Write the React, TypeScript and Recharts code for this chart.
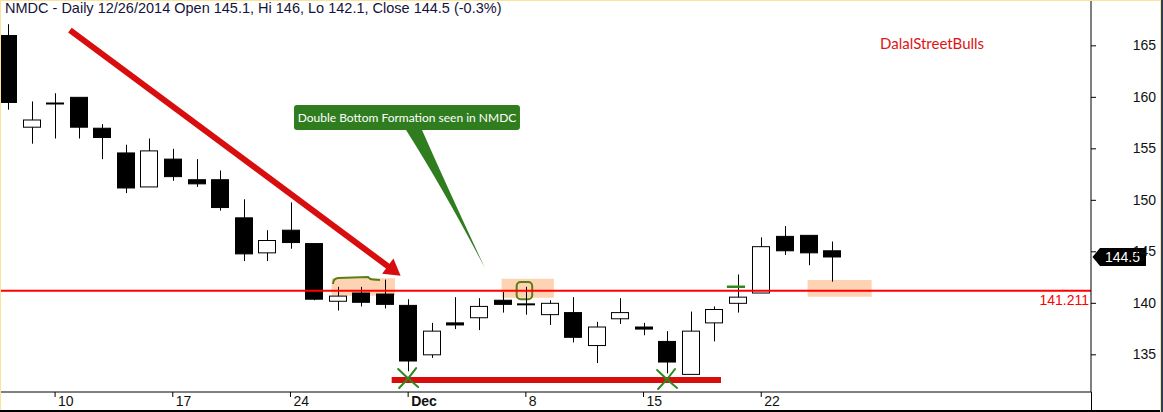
import React from "react";
import {
  ComposedChart,
  Bar,
  XAxis,
  YAxis,
  ReferenceLine,
  ReferenceArea,
  ReferenceDot,
} from "recharts";

// trading days shown on the chart (Nov 5 - Dec 26, 2014)
const days = [
  "Nov 5", "Nov 7", "Nov 10", "Nov 11", "Nov 12", "Nov 13", "Nov 14",
  "Nov 17", "Nov 18", "Nov 19", "Nov 20", "Nov 21",
  "Nov 24", "Nov 25", "Nov 26", "Nov 27", "Nov 28",
  "Dec 1", "Dec 2", "Dec 3", "Dec 4", "Dec 5",
  "Dec 8", "Dec 9", "Dec 10", "Dec 11", "Dec 12",
  "Dec 15", "Dec 16", "Dec 17", "Dec 18", "Dec 19",
  "Dec 22", "Dec 23", "Dec 24", "Dec 26",
];
const opens = [
  166.0, 157.1, 159.4, 160.0, 157.0, 154.6, 151.3, 154.0, 152.0, 152.0, 148.3, 144.9,
  147.1, 145.8, 140.2, 141.0, 140.9, 139.8, 135.0, 138.1, 138.6, 140.3, 139.9, 138.9,
  139.1, 135.9, 138.5, 137.7, 136.3, 133.1, 138.1, 140.0, 141.0, 146.5, 146.6, 145.1,
];
const highs = [
  167.1, 159.6, 160.4, 160.0, 157.4, 155.4, 156.0, 155.0, 154.0, 152.9, 150.1, 147.1,
  149.8, 145.8, 141.6, 141.6, 142.3, 140.4, 138.1, 140.6, 140.5, 141.1, 141.6, 140.3,
  140.6, 138.2, 140.5, 138.1, 137.3, 139.2, 139.7, 142.8, 146.4, 147.5, 146.6, 146.0,
];
const lows = [
  158.8, 155.5, 156.0, 156.0, 154.0, 150.7, 151.3, 151.9, 151.3, 149.0, 144.1, 144.1,
  145.3, 140.3, 139.3, 139.7, 139.5, 133.4, 134.7, 137.5, 137.4, 139.1, 138.9, 137.9,
  136.2, 134.2, 138.0, 136.9, 133.2, 133.1, 136.3, 139.1, 141.0, 144.7, 143.7, 142.1,
];
const closes = [
  159.5, 157.8, 159.45, 157.1, 156.1, 151.2, 154.8, 152.3, 151.6, 149.3, 144.8, 146.1,
  145.9, 140.4, 140.7, 140.1, 139.9, 134.4, 137.3, 137.9, 139.7, 139.9, 139.95, 140.0,
  136.7, 137.7, 139.1, 137.5, 134.3, 137.3, 139.4, 140.6, 145.5, 145.1, 144.9, 144.5,
];

const weekTicks = [2, 7, 12, 17, 22, 27, 32];
const weekLabels = ["10", "17", "24", "Dec", "8", "15", "22"];
const priceTicks = [135, 140, 145, 150, 155, 160, 165];
const supportLevel = 141.211;
const lastClose = 144.5;
const doubleBottomLevel = 132.55;

const data = days.map((day, i) => ({
  i,
  day,
  open: opens[i],
  high: highs[i],
  low: lows[i],
  close: closes[i],
  range: [lows[i], highs[i]],
}));

const RED = "#d80e0e";
const GREEN = "#2f7d1f";
const OLIVE = "#5a7d14";
const PEACH = "#fca868";
const AXIS_FONT = "'Liberation Sans', Arial, sans-serif";

function Candle(props: any) {
  const { x, y, width, height, payload } = props;
  const { open, close, high, low } = payload;
  const ppu = height / (high - low);
  const py = (v: number) => y + (high - v) * ppu;
  const cx = Math.round(x + width / 2) + 0.5;
  const top = py(Math.max(open, close));
  const bot = py(Math.min(open, close));
  const up = close > open;
  return (
    <g>
      <line x1={cx} x2={cx} y1={y} y2={y + height} stroke="#000" strokeWidth={1} />
      <rect
        x={Math.round(x) + 0.5}
        y={top}
        width={width - 1}
        height={Math.max(bot - top, 1)}
        fill={up ? "#fff" : "#000"}
        stroke="#000"
        strokeWidth={1}
      />
    </g>
  );
}

const XTick = (props: any) => {
  const { x, y, payload } = props;
  const label = weekLabels[weekTicks.indexOf(payload.value)];
  return (
    <text
      x={x + 3}
      y={y + 7}
      fontSize={14}
      fontFamily={AXIS_FONT}
      fontWeight={label === "Dec" ? "bold" : "normal"}
      fill="#111"
    >
      {label}
    </text>
  );
};

const YTick = (props: any) => {
  const { x, y, payload } = props;
  return (
    <text x={x + 58} y={y + 4.5} fontSize={14} fontFamily={AXIS_FONT} textAnchor="end" fill="#111">
      {payload.value}
    </text>
  );
};

const Arrow = (p: any) => {
  const { x1, y1, x2, y2 } = p;
  const dx = x2 - x1;
  const dy = y2 - y1;
  const len = Math.hypot(dx, dy);
  const ux = dx / len;
  const uy = dy / len;
  const head = 16;
  const half = 9.5;
  const bx = x2 - ux * head;
  const by = y2 - uy * head;
  return (
    <g>
      <line x1={x1} y1={y1} x2={bx + ux * 2} y2={by + uy * 2} stroke={RED} strokeWidth={6} />
      <polygon
        points={`${x2},${y2} ${bx - uy * half},${by + ux * half} ${bx + uy * half},${by - ux * half}`}
        fill={RED}
      />
    </g>
  );
};

const Tail = (p: any) => {
  const { x1, y1, x2, y2 } = p;
  return (
    <path
      d={`M${x1 - 8},${y1} Q${x1 + 30},${y1 + 60} ${x2},${y2} Q${x1 + 30},${y1 + 50} ${x1 + 8},${y1} Z`}
      fill={GREEN}
    />
  );
};

const Scribble = (p: any) => {
  const { x1, y1, x2, y2 } = p;
  return (
    <path
      d={`M${x1},${y1 + 1} Q${x1},${y1 - 4.5} ${x1 + 5},${y1 - 5} L${x1 + 35},${y1 - 6} Q${x1 + 37},${y1 - 3.5} ${x1 + 40},${y1 - 3.5} L${x2},${y2}`}
      fill="none"
      stroke={OLIVE}
      strokeWidth={2}
    />
  );
};

const Cross = (p: any) => {
  const { cx, cy } = p;
  return (
    <g fill="none" stroke="#2d8a1e" strokeWidth={2} strokeLinecap="round">
      <path d={`M${cx - 10},${cy - 8} Q${cx},${cy + 2} ${cx + 10},${cy + 10}`} />
      <path d={`M${cx - 9},${cy + 11} Q${cx + 1},${cy + 1} ${cx + 8},${cy - 9}`} />
    </g>
  );
};

const PriceTag = (p: any) => {
  const { cx, cy } = p;
  return (
    <g>
      <polygon
        points={`${cx + 1.5},${cy} ${cx + 9},${cy - 9} ${cx + 55},${cy - 9} ${cx + 55},${cy + 9} ${cx + 9},${cy + 9}`}
        fill="#000"
      />
      <text x={cx + 14} y={cy + 5} fontSize={14} fontFamily={AXIS_FONT} fill="#fff">
        {lastClose}
      </text>
    </g>
  );
};

const CalloutBox = (p: any) => (
  <rect x={p.x} y={p.y} width={p.width} height={p.height} rx={3} fill={GREEN} />
);

const RoundBox = (p: any) => (
  <rect x={p.x} y={p.y} width={p.width} height={p.height} rx={4} fill="none" stroke={OLIVE} strokeWidth={2} />
);

const calloutLabel = (props: any) => {
  const vb = props.viewBox;
  return (
    <text
      x={vb.x + vb.width / 2}
      y={vb.y + vb.height / 2 + 4}
      textAnchor="middle"
      fontSize={12}
      fontFamily="Lato, 'Open Sans', sans-serif"
      fill="#fff"
    >
      Double Bottom Formation seen in NMDC
    </text>
  );
};

const levelLabel = (props: any) => {
  const vb = props.viewBox;
  return (
    <text
      x={vb.x + vb.width - 2}
      y={vb.y + 14}
      textAnchor="end"
      fontSize={14}
      fontFamily={AXIS_FONT}
      fill="#ff0000"
    >
      {supportLevel}
    </text>
  );
};

export default function App() {
  return (
    <div style={{ position: "absolute", left: 0, top: 0, width: 1163, height: 412, background: "#fff" }}>
      <ComposedChart width={1163} height={412} data={data} margin={{ top: 0, right: 0, bottom: 0, left: 0 }}>
        <XAxis
          dataKey="i"
          type="number"
          domain={[-0.34, 46.01]}
          allowDataOverflow
          ticks={weekTicks}
          interval={0}
          tick={<XTick />}
          tickSize={5}
          tickMargin={2}
          height={20}
          axisLine={{ stroke: "#000" }}
          tickLine={{ stroke: "#000" }}
        />
        <YAxis
          orientation="right"
          type="number"
          domain={[131.39, 169.45]}
          allowDataOverflow
          ticks={priceTicks}
          interval={0}
          tick={<YTick />}
          tickSize={5}
          tickMargin={2}
          width={72}
          axisLine={{ stroke: "#000" }}
          tickLine={{ stroke: "#000" }}
        />

        <ReferenceArea x1={13.75} x2={16.44} y1={140.74} y2={142.43} fill={PEACH} fillOpacity={0.5} stroke="none" />
        <ReferenceArea x1={20.97} x2={23.19} y1={140.54} y2={142.39} fill={PEACH} fillOpacity={0.5} stroke="none" />
        <ReferenceArea x1={33.97} x2={36.69} y1={140.64} y2={142.26} fill={PEACH} fillOpacity={0.5} stroke="none" />

        <ReferenceLine y={supportLevel} stroke="#ff0000" strokeWidth={2} label={levelLabel} />

        <Bar dataKey="range" barSize={18} shape={<Candle />} isAnimationActive={false} />

        <ReferenceLine
          segment={[{ x: 16.3, y: doubleBottomLevel }, { x: 30.29, y: doubleBottomLevel }]}
          stroke={RED}
          strokeWidth={6}
        />
        <ReferenceDot x={17} y={132.84} r={10} shape={Cross} ifOverflow="visible" />
        <ReferenceDot x={28} y={132.75} r={10} shape={Cross} ifOverflow="visible" />

        <ReferenceLine segment={[{ x: 2.63, y: 166.53 }, { x: 16.68, y: 142.68 }]} shape={Arrow} />

        <ReferenceLine segment={[{ x: 17.25, y: 156.83 }, { x: 20.26, y: 143.43 }]} shape={Tail} />
        <ReferenceArea x1={12.15} x2={21.75} y1={156.83} y2={159.25} shape={CalloutBox} label={calloutLabel} />

        <ReferenceLine segment={[{ x: 13.81, y: 141.97 }, { x: 15.8, y: 142.26 }]} shape={Scribble} />
        <ReferenceArea x1={21.61} x2={22.27} y1={140.4} y2={142.07} shape={RoundBox} />
        <ReferenceLine
          segment={[{ x: 30.54, y: 141.61 }, { x: 31.31, y: 141.61 }]}
          stroke="#2d8a1e"
          strokeWidth={2.5}
        />

        <ReferenceDot x={46.01} y={lastClose} r={1} shape={PriceTag} ifOverflow="visible" />
      </ComposedChart>

      <div
        style={{
          position: "absolute",
          left: 5,
          top: 0,
          fontFamily: AXIS_FONT,
          fontSize: 14.5,
          lineHeight: "17px",
          color: "#14143a",
          whiteSpace: "nowrap",
        }}
      >
        NMDC - Daily 12/26/2014 Open 145.1, Hi 146, Lo 142.1, Close 144.5 (-0.3%)
      </div>
      <div
        style={{
          position: "absolute",
          left: 880,
          top: 33,
          fontFamily: "Lato, 'Open Sans', sans-serif",
          fontSize: 15,
          lineHeight: "20px",
          color: "#dd1414",
          whiteSpace: "nowrap",
        }}
      >
        DalalStreetBulls
      </div>

      <div style={{ position: "absolute", left: 0, top: 0, width: 1161, height: 1, background: "#fbe49a" }} />
      <div style={{ position: "absolute", left: 0, top: 0, width: 1, height: 412, background: "#fbe49a" }} />
      <div style={{ position: "absolute", left: 1160, top: 0, width: 1, height: 412, background: "#fbe49a" }} />
      <div style={{ position: "absolute", left: 1161, top: 0, width: 2, height: 412, background: "#2b3f5a" }} />
      <div style={{ position: "absolute", left: 0, top: 410, width: 1160, height: 1.5, background: "#000" }} />
      <div style={{ position: "absolute", left: 1090.5, top: 392, width: 1, height: 20, background: "#000" }} />
    </div>
  );
}
